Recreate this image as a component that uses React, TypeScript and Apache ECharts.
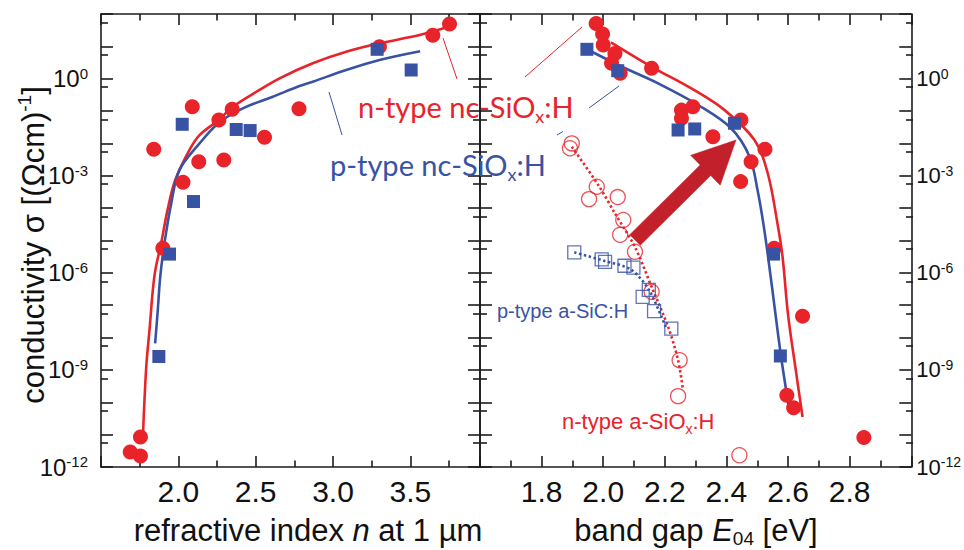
import React, { useEffect, useRef } from 'react';
import * as echarts from 'echarts';

// ---------- Data: left panel (refractive index n at 1 µm) ----------
const leftRedN = [1.689, 1.755, 1.755, 1.90, 1.841, 2.03, 2.09, 2.132, 2.262, 2.294, 2.348, 2.557, 2.78, 3.30, 3.645, 3.753];
const leftRedSigma = [2.9e-12, 2.2e-12, 8.5e-12, 5.8e-6, 6.6e-3, 6.3e-4, 0.135, 2.7e-3, 0.053, 3.1e-3, 0.113, 0.0155, 0.117, 9.8, 22, 49];

const leftBlueN = [1.874, 1.943, 2.025, 2.098, 2.374, 2.464, 3.285, 3.505];
const leftBlueSigma = [2.6e-9, 3.8e-6, 0.039, 1.6e-4, 0.027, 0.025, 8.1, 1.86];

const leftRedFitN = [1.770, 1.792, 1.813, 1.846, 1.889, 1.93, 1.98, 2.072, 2.137, 2.261, 2.352, 2.525, 2.654, 2.869, 3.085, 3.30, 3.559, 3.72];
const leftRedFitSigma = [6.8e-12, 1.15e-9, 1.6e-8, 8.5e-7, 8.3e-6, 8.7e-5, 7.4e-4, 6.3e-3, 0.018, 0.053, 0.136, 0.45, 1.03, 3.0, 6.8, 12.4, 22.4, 37];

const leftBlueFitN = [1.85, 1.867, 1.883, 1.91, 1.954, 2.007, 2.137, 2.266, 2.417, 2.611, 2.783, 2.869, 3.085, 3.30, 3.563];
const leftBlueFitSigma = [6.6e-9, 7.1e-8, 7.6e-7, 8.1e-6, 1.4e-4, 1.5e-3, 0.01, 0.045, 0.121, 0.278, 0.594, 0.81, 1.86, 3.8, 7.1];

// ---------- Data: right panel (band gap E04) ----------
const rightRedE = [1.977, 1.998, 2.0, 2.038, 2.027, 2.055, 2.157, 2.254, 2.291, 2.254, 2.356, 2.447, 2.525, 2.480, 2.446, 2.555, 2.647, 2.596, 2.618, 2.846];
const rightRedSigma = [51, 24, 11, 6.0, 3.0, 1.47, 2.1, 0.107, 0.136, 0.060, 0.0162, 0.053, 6.6e-3, 2.7e-3, 6.6e-4, 5.8e-6, 4.6e-8, 1.66e-10, 6.8e-11, 8.1e-12];

const rightBlueE = [1.947, 2.047, 2.243, 2.297, 2.426, 2.553, 2.575];
const rightBlueSigma = [8.1, 1.77, 0.026, 0.028, 0.042, 3.8e-6, 2.7e-9];

const rightRedFitE = [2.025, 2.157, 2.286, 2.394, 2.491, 2.534, 2.566, 2.582, 2.60, 2.625, 2.647];
const rightRedFitSigma = [13.3, 2.34, 0.50, 0.107, 0.0127, 1.2e-3, 3.2e-5, 3.2e-6, 5e-8, 1e-9, 3.5e-11];

const rightBlueFitE = [1.963, 2.071, 2.178, 2.308, 2.415, 2.475, 2.501, 2.523, 2.546, 2.577, 2.604];
const rightBlueFitSigma = [6.8, 2.1, 0.72, 0.154, 0.0295, 3.9e-3, 3.6e-4, 2.1e-5, 5e-7, 2.7e-9, 5.8e-11];

const aSiOE = [1.898, 1.892, 1.979, 1.954, 2.047, 2.065, 2.055, 2.103, 2.157, 2.248, 2.243, 2.442];
const aSiOSigma = [0.01, 7.1e-3, 4.6e-4, 1.9e-4, 2.2e-4, 4.3e-5, 1.5e-5, 4.5e-6, 2.6e-7, 2e-9, 1.55e-10, 2.3e-12];

const aSiOFitE = [1.898, 1.985, 2.038, 2.103, 2.157, 2.211, 2.243, 2.259];
const aSiOFitSigma = [7.9e-3, 5e-4, 6.9e-5, 6.3e-6, 3.7e-7, 2.1e-8, 2e-9, 2.4e-10];

const aSiCE = [1.906, 1.995, 2.006, 2.069, 2.098, 2.148, 2.128, 2.165, 2.221];
const aSiCSigma = [4.3e-6, 2.6e-6, 2.2e-6, 1.66e-6, 1.45e-6, 3e-7, 1.8e-7, 6.6e-8, 1.9e-8];

const aSiCFitE = [1.906, 2.0, 2.09, 2.148, 2.205];
const aSiCFitSigma = [4.3e-6, 2.4e-6, 1.26e-6, 3e-7, 1.9e-8];

// axis ranges (log10 of sigma for y)
const yMinExp = -12;
const yMaxExp = 2;
const leftXMin = 1.5, leftXMax = 3.95;
const rightXMin = 1.6, rightXMax = 3.0;

// ---------- Layout / style ----------
const PLOT_TOP = 14;
const PLOT_H = 453;
const LEFT_X = 101;
const LEFT_W = 379;
const RIGHT_X = 480;
const RIGHT_W = 433;
const DEC = PLOT_H / (yMaxExp - yMinExp);
const MINOR_OFF = 0.26;

const RED = '#e8232a';
const BLUE = '#3853a4';
const AXIS = '#1c1c1c';
const ARROW = '#c2202a';
const FONT = "'Liberation Sans', Arial, sans-serif";
const CAL = "Lato, 'Open Sans', sans-serif";

const pts = (xs: number[], ys: number[]) => xs.map((x, i) => [x, Math.log10(ys[i])]);

const lineStyle = { color: AXIS, width: 1.6 };

const yLabelFmt = (v: number) => {
  const r = Math.round(v);
  if (Math.abs(v - r) > 1e-6 || r % 3 !== 0 || r > 0) return '';
  return `{b|10}{s|${r}}`;
};

const yRich = (size: number) => ({
  b: { fontSize: size, fontFamily: FONT, color: '#111', lineHeight: size + 2, verticalAlign: 'middle' },
  s: { fontSize: Math.round(size * 0.64), fontFamily: FONT, color: '#111', lineHeight: Math.round(size * 0.64), verticalAlign: 'top' },
});

function buildOption() {
  const xBase = (grid: number, pos: string, min: number, max: number, interval: number, labels: boolean, fmt?: (v: number) => string) => ({
    gridIndex: grid,
    type: 'value',
    position: pos,
    min,
    max,
    interval,
    axisLine: { show: true, onZero: false, lineStyle },
    axisTick: { show: true, inside: true, length: 11, lineStyle },
    minorTick: { show: true, splitNumber: 2, length: 6.5, lineStyle },
    splitLine: { show: false },
    minorSplitLine: { show: false },
    axisLabel: labels
      ? { show: true, formatter: fmt, fontSize: 30, fontFamily: FONT, color: '#111', margin: 9 }
      : { show: false },
  });

  const leftXFmt = (v: number) => {
    const k = Math.round(v * 2);
    if (Math.abs(v * 2 - k) > 1e-6 || v < 1.9 || v > 3.6) return '';
    return v.toFixed(1);
  };
  const rightXFmt = (v: number) => {
    const k = Math.round(v * 10);
    if (Math.abs(v * 10 - k) > 1e-6 || v < 1.7 || v > 2.9) return '';
    return v.toFixed(1);
  };

  const yMain = (grid: number, pos: string, labels: boolean, size: number, margin: number) => ({
    gridIndex: grid,
    type: 'value',
    position: pos,
    min: yMinExp,
    max: yMaxExp,
    interval: 1,
    axisLine: { show: true, onZero: false, lineStyle },
    axisTick: { show: true, inside: true, length: 12, lineStyle },
    splitLine: { show: false },
    axisLabel: labels
      ? { show: true, formatter: yLabelFmt, margin, rich: yRich(size) }
      : { show: false },
  });

  const yMinor = (grid: number, pos: string) => ({
    gridIndex: grid,
    type: 'value',
    position: pos,
    min: yMinExp + 1 - MINOR_OFF,
    max: yMaxExp - MINOR_OFF,
    interval: 1,
    axisLine: { show: false, onZero: false },
    axisTick: { show: true, inside: true, length: 7, lineStyle },
    splitLine: { show: false },
    axisLabel: { show: false },
  });

  const hiddenX = (grid: number) => ({ gridIndex: grid, type: 'value', min: 0, max: 1, show: false });

  const minorTop = PLOT_TOP + MINOR_OFF * DEC;
  const minorH = (yMaxExp - yMinExp - 1) * DEC;

  const scatterFilled = (name: string, data: number[][], xi: number, yi: number, symbol: string, size: number, color: string, z: number) => ({
    name, type: 'scatter', xAxisIndex: xi, yAxisIndex: yi, data, symbol, symbolSize: size,
    itemStyle: { color, opacity: 1 }, z,
  });
  const scatterOpen = (name: string, data: number[][], xi: number, yi: number, symbol: string, size: number, color: string) => ({
    name, type: 'scatter', xAxisIndex: xi, yAxisIndex: yi, data, symbol, symbolSize: size,
    itemStyle: { color: 'rgba(255,255,255,0)', borderColor: color, borderWidth: 1.3 }, z: 3,
  });
  const fitLine = (name: string, data: number[][], xi: number, yi: number, color: string, dotted: boolean) => ({
    name, type: 'line', xAxisIndex: xi, yAxisIndex: yi, data, smooth: dotted ? 0.3 : 0.35, symbol: 'none',
    lineStyle: dotted ? { color, width: 2.6, type: [2.4, 2.6] } : { color, width: 2.6 },
    z: 2, silent: true,
  });

  // arrow
  const tail = [635, 240];
  const tip = [736, 140];
  const dx = tip[0] - tail[0];
  const dy = tip[1] - tail[1];
  const L = Math.hypot(dx, dy);
  const ux = dx / L, uy = dy / L;
  const nx = -uy, ny = ux;
  const headLen = 43, headHalf = 21, shaftHalf = 7.5;
  const bx = tip[0] - ux * headLen, by = tip[1] - uy * headLen;
  const arrowPts = [
    [tail[0] + nx * shaftHalf, tail[1] + ny * shaftHalf],
    [bx + nx * shaftHalf, by + ny * shaftHalf],
    [bx + nx * headHalf, by + ny * headHalf],
    [tip[0], tip[1]],
    [bx - nx * headHalf, by - ny * headHalf],
    [bx - nx * shaftHalf, by - ny * shaftHalf],
    [tail[0] - nx * shaftHalf, tail[1] - ny * shaftHalf],
  ];

  const subRich = (size: number, color: string, family: string, subSize: number, lh: number) => ({
    m: { fontSize: size, fontFamily: family, fill: color, color, lineHeight: lh, verticalAlign: 'middle' },
    i: { fontSize: size, fontFamily: family, fill: color, color, lineHeight: lh, fontStyle: 'italic', verticalAlign: 'middle' },
    d: { fontSize: subSize, fontFamily: family, fill: color, color, lineHeight: subSize, verticalAlign: 'bottom' },
    s: { fontSize: subSize, fontFamily: family, fill: color, color, lineHeight: subSize, verticalAlign: 'top' },
  });

  const thin = (x1: number, y1: number, x2: number, y2: number, color: string) => ({
    type: 'line', shape: { x1, y1, x2, y2 }, style: { stroke: color, lineWidth: 1 }, z: 5, silent: true,
  });

  return {
    animation: false,
    backgroundColor: '#ffffff',
    grid: [
      { left: LEFT_X, top: PLOT_TOP, width: LEFT_W, height: PLOT_H, containLabel: false },
      { left: RIGHT_X, top: PLOT_TOP, width: RIGHT_W, height: PLOT_H, containLabel: false },
      { left: LEFT_X, top: minorTop, width: LEFT_W, height: minorH, containLabel: false },
      { left: RIGHT_X, top: minorTop, width: RIGHT_W, height: minorH, containLabel: false },
    ],
    xAxis: [
      xBase(0, 'bottom', leftXMin, leftXMax, 0.5, true, leftXFmt),
      xBase(0, 'top', leftXMin, leftXMax, 0.5, false),
      xBase(1, 'bottom', rightXMin, rightXMax, 0.2, true, rightXFmt),
      xBase(1, 'top', rightXMin, rightXMax, 0.2, false),
      hiddenX(2),
      hiddenX(3),
    ],
    yAxis: [
      yMain(0, 'left', true, 24, 13),
      yMain(0, 'right', false, 24, 5),
      yMain(1, 'left', false, 22, 5),
      yMain(1, 'right', true, 22, 5),
      yMinor(2, 'left'),
      yMinor(2, 'right'),
      yMinor(3, 'left'),
      yMinor(3, 'right'),
    ],
    series: [
      fitLine('n-type nc-SiOx:H fit (n)', pts(leftRedFitN, leftRedFitSigma), 0, 0, RED, false),
      fitLine('p-type nc-SiOx:H fit (n)', pts(leftBlueFitN, leftBlueFitSigma), 0, 0, BLUE, false),
      scatterFilled('n-type nc-SiOx:H (n)', pts(leftRedN, leftRedSigma), 0, 0, 'circle', 15, RED, 4),
      scatterFilled('p-type nc-SiOx:H (n)', pts(leftBlueN, leftBlueSigma), 0, 0, 'rect', 13, BLUE, 5),

      fitLine('n-type a-SiOx:H fit', pts(aSiOFitE, aSiOFitSigma), 2, 3, RED, true),
      fitLine('p-type a-SiC:H fit', pts(aSiCFitE, aSiCFitSigma), 2, 3, BLUE, true),
      scatterOpen('n-type a-SiOx:H', pts(aSiOE, aSiOSigma), 2, 3, 'circle', 15, RED),
      scatterOpen('p-type a-SiC:H', pts(aSiCE, aSiCSigma), 2, 3, 'rect', 13, BLUE),
      fitLine('n-type nc-SiOx:H fit (E04)', pts(rightRedFitE, rightRedFitSigma), 2, 3, RED, false),
      fitLine('p-type nc-SiOx:H fit (E04)', pts(rightBlueFitE, rightBlueFitSigma), 2, 3, BLUE, false),
      scatterFilled('n-type nc-SiOx:H (E04)', pts(rightRedE, rightRedSigma), 2, 3, 'circle', 15, RED, 4),
      scatterFilled('p-type nc-SiOx:H (E04)', pts(rightBlueE, rightBlueSigma), 2, 3, 'rect', 13, BLUE, 5),
    ],
    graphic: [
      // y-axis title
      {
        type: 'text', x: 33, y: 245, rotation: Math.PI / 2, z: 10,
        style: {
          text: '{m|conductivity σ [(Ωcm)}{s|-1}{m|]}',
          align: 'center', verticalAlign: 'middle',
          rich: subRich(31, '#111', FONT, 19, 36),
        },
      },
      // x-axis titles
      {
        type: 'text', x: 308, y: 530, z: 10,
        style: {
          text: '{m|refractive index }{i|n}{m| at 1 µm}',
          align: 'center', verticalAlign: 'middle',
          rich: subRich(31, '#111', FONT, 20, 40),
        },
      },
      {
        type: 'text', x: 696, y: 530, z: 10,
        style: {
          text: '{m|band gap }{i|E}{d|04}{m| [eV]}',
          align: 'center', verticalAlign: 'middle',
          rich: subRich(31, '#111', FONT, 19, 35),
        },
      },
      // annotations
      {
        type: 'text', x: 358, y: 106, z: 10,
        style: {
          text: '{m|n-type nc-SiO}{d|x}{m|:H}',
          align: 'left', verticalAlign: 'middle',
          rich: subRich(29, RED, CAL, 18, 38),
        },
      },
      {
        type: 'text', x: 330, y: 164, z: 10,
        style: {
          text: '{m|p-type nc-SiO}{d|x}{m|:H}',
          align: 'left', verticalAlign: 'middle',
          rich: subRich(29, BLUE, CAL, 18, 38),
        },
      },
      {
        type: 'text', x: 497, y: 311, z: 10,
        style: {
          text: 'p-type a-SiC:H', fontSize: 20, fontFamily: FONT, fill: BLUE,
          align: 'left', verticalAlign: 'middle',
        },
      },
      {
        type: 'text', x: 562, y: 421, z: 10,
        style: {
          text: '{m|n-type a-SiO}{d|x}{m|:H}',
          align: 'left', verticalAlign: 'middle',
          rich: subRich(22, RED, FONT, 14, 30),
        },
      },
      // leader lines
      thin(443, 38, 457, 79, RED),
      thin(525, 77, 582, 27, RED),
      thin(329, 92, 342, 135, BLUE),
      thin(589, 108, 619, 86, BLUE),
      thin(557, 135, 563, 131.5, BLUE),
      // arrow
      {
        type: 'polygon', z: 10, silent: true,
        shape: { points: arrowPts },
        style: { fill: ARROW, stroke: ARROW, lineWidth: 0.5 },
      },
    ],
  };
}

export default function App() {
  const ref = useRef<HTMLDivElement>(null);
  useEffect(() => {
    if (!ref.current) return;
    const chart = echarts.init(ref.current, null, { renderer: 'svg' });
    chart.setOption(buildOption() as any);
    return () => chart.dispose();
  }, []);
  return (
    <div
      ref={ref}
      style={{ position: 'fixed', left: 0, top: 0, width: 964, height: 550, background: '#ffffff' }}
    />
  );
}
